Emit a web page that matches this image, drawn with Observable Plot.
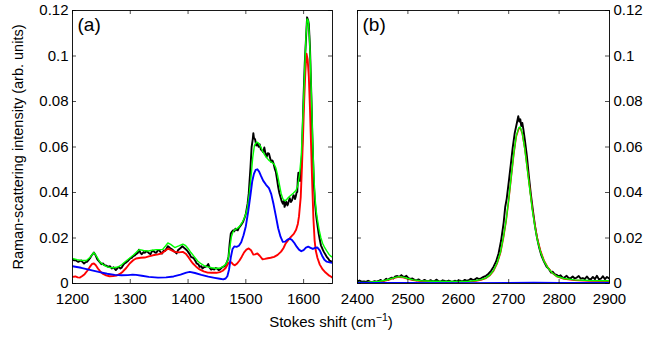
<!DOCTYPE html>
<html>
<head>
<meta charset="utf-8">
<script src="https://cdn.jsdelivr.net/npm/d3@7"></script>
<script src="https://cdn.jsdelivr.net/npm/@observablehq/plot@0.6"></script>
<style>
  html, body { margin: 0; padding: 0; background: #fff; }
  #wrap { position: relative; width: 645px; height: 339px; overflow: hidden; font-family: "Liberation Sans", Arial, sans-serif; }
  #wrap svg { position: absolute; top: 0; }
  #xlabel { position: absolute; left: 0; width: 662px; text-align: center; top: 313px; font-size: 15px; color: #000; }
  #xlabel sup { font-size: 10.5px; vertical-align: 6px; line-height: 0; }
</style>
</head>
<body>
<div id="wrap"><div id="xlabel">Stokes shift (cm<sup>−1</sup>)</div></div>
<script>
// ---------- tick labels ----------
const yTicks = [0, 0.02, 0.04, 0.06, 0.08, 0.1, 0.12];
const xTicksA = [1200, 1300, 1400, 1500, 1600];
const xTicksB = [2400, 2500, 2600, 2700, 2800, 2900];
const xDomainA = [1200, 1650];
const xDomainB = [2400, 2900];
const yDomain = [0, 0.12];
const yTitle = "Raman-scattering intensity (arb. units)";
const panelLabels = ["(a)", "(b)"];

// ---------- panel (a) : 1200-1650 cm-1 ----------
const aBlack = [
[1200,0.0105],[1203,0.0102],[1205,0.0103],[1208,0.0098],[1210,0.0095],[1213,0.0099],[1215,0.0101],[1218,0.0093],[1220,0.0088],[1223,0.0094],[1225,0.0095],[1228,0.0104],[1230,0.011],[1233,0.0123],[1237,0.0136],[1240,0.0124],[1243,0.0106],[1246,0.0097],[1250,0.0085],[1253,0.0088],[1255,0.0081],[1258,0.0079],[1262,0.0073],[1265,0.0076],[1268,0.0066],[1271,0.0071],[1275,0.0059],[1278,0.0068],[1280,0.0073],[1283,0.0066],[1285,0.0069],[1288,0.0082],[1290,0.0088],[1293,0.0093],[1296,0.0099],[1300,0.011],[1303,0.0114],[1305,0.012],[1308,0.0124],[1310,0.0129],[1313,0.0134],[1315,0.0149],[1318,0.0133],[1320,0.0129],[1323,0.0138],[1325,0.0135],[1328,0.0142],[1330,0.0139],[1333,0.0132],[1335,0.0129],[1338,0.0144],[1340,0.0143],[1343,0.0136],[1345,0.0135],[1348,0.0147],[1350,0.0146],[1353,0.0137],[1355,0.0132],[1358,0.0145],[1360,0.0143],[1363,0.0155],[1365,0.0164],[1368,0.0158],[1370,0.0153],[1373,0.0149],[1375,0.0143],[1378,0.0138],[1380,0.0132],[1383,0.0148],[1385,0.0151],[1388,0.0158],[1390,0.0164],[1393,0.0157],[1395,0.0153],[1398,0.0146],[1400,0.0139],[1403,0.0128],[1405,0.0117],[1408,0.0114],[1410,0.0110],[1413,0.0098],[1415,0.0088],[1418,0.0084],[1420,0.0073],[1423,0.0076],[1425,0.0066],[1428,0.0072],[1430,0.0073],[1433,0.0078],[1435,0.0086],[1437,0.0071],[1440,0.0061],[1443,0.0065],[1445,0.0061],[1448,0.0068],[1450,0.0066],[1453,0.0059],[1455,0.0061],[1458,0.0069],[1460,0.0073],[1463,0.0075],[1465,0.0081],[1468,0.0098],[1470,0.0117],[1472,0.0175],[1474,0.022],[1476,0.0228],[1478,0.0234],[1480,0.0229],[1482,0.0241],[1484,0.0236],[1486,0.0234],[1488,0.0245],[1490,0.0251],[1493,0.0262],[1495,0.027],[1498,0.029],[1500,0.0307],[1503,0.035],[1505,0.0395],[1508,0.051],[1510,0.06],[1512,0.0635],[1513,0.0661],[1514,0.064],[1516,0.0634],[1518,0.0606],[1520,0.0615],[1522,0.0601],[1524,0.0612],[1526,0.0589],[1528,0.0585],[1530,0.0577],[1532,0.0598],[1534,0.0571],[1536,0.0556],[1538,0.0573],[1540,0.0571],[1542,0.0552],[1544,0.0534],[1546,0.0541],[1548,0.0527],[1550,0.0505],[1552,0.049],[1554,0.0458],[1556,0.0424],[1558,0.0398],[1560,0.038],[1562,0.0362],[1564,0.0351],[1566,0.0363],[1567,0.0337],[1569,0.0352],[1570,0.0359],[1572,0.0343],[1573,0.0349],[1575,0.0368],[1576,0.0375],[1578,0.0358],[1580,0.0366],[1582,0.0385],[1583,0.0388],[1585,0.0371],[1586,0.0378],[1588,0.0401],[1589,0.0402],[1590,0.0462],[1591,0.0487],[1592,0.0455],[1594,0.0451],[1596,0.0515],[1597,0.0566],[1598,0.0655],[1600,0.083],[1602,0.097],[1603,0.102],[1605,0.112],[1606,0.117],[1608,0.1155],[1609,0.114],[1611,0.104],[1612,0.095],[1614,0.077],[1615,0.066],[1617,0.05],[1618,0.0424],[1620,0.0345],[1622,0.0293],[1624,0.0255],[1626,0.022],[1628,0.0192],[1630,0.0168],[1633,0.015],[1635,0.0139],[1638,0.0126],[1640,0.0117],[1643,0.0108],[1645,0.01],[1648,0.0097],[1650,0.0095]
];
const aGreen = [
[1200,0.011],[1208,0.0105],[1216,0.0101],[1224,0.0101],[1230,0.0114],[1237,0.0136],[1242,0.0118],[1247,0.0096],[1253,0.0083],[1259,0.0074],[1265,0.007],[1271,0.0069],[1279,0.0073],[1285,0.0082],[1290,0.0093],[1297,0.0108],[1305,0.0124],[1311,0.0139],[1316,0.0149],[1323,0.0145],[1331,0.0143],[1338,0.0146],[1345,0.0149],[1351,0.0149],[1356,0.015],[1361,0.0165],[1365,0.0178],[1370,0.0172],[1377,0.0158],[1384,0.0165],[1391,0.0173],[1396,0.0166],[1400,0.0154],[1405,0.0136],[1411,0.0117],[1417,0.0098],[1423,0.0086],[1429,0.0077],[1434,0.0073],[1441,0.0069],[1449,0.0066],[1455,0.0068],[1460,0.0073],[1465,0.0084],[1469,0.0104],[1472,0.0152],[1475,0.0205],[1478,0.0228],[1481,0.0237],[1485,0.0242],[1489,0.0251],[1493,0.0265],[1496,0.028],[1500,0.0305],[1503,0.0338],[1506,0.0395],[1509,0.0468],[1512,0.0555],[1515,0.0608],[1519,0.0622],[1522,0.0617],[1526,0.06],[1530,0.0576],[1535,0.0556],[1540,0.0541],[1545,0.0532],[1549,0.0525],[1552,0.0508],[1555,0.0475],[1558,0.0437],[1561,0.0397],[1564,0.0373],[1567,0.0364],[1570,0.0367],[1574,0.0379],[1578,0.0388],[1582,0.0397],[1587,0.041],[1590,0.0432],[1593,0.048],[1596,0.0565],[1598,0.0685],[1600,0.0805],[1602,0.095],[1604,0.108],[1606,0.1163],[1608,0.1155],[1610,0.109],[1612,0.096],[1614,0.078],[1616,0.06],[1618,0.046],[1620,0.037],[1622,0.0315],[1624,0.028],[1627,0.0235],[1630,0.02],[1633,0.0176],[1636,0.016],[1640,0.0143],[1644,0.0128],[1647,0.012],[1650,0.0116]
];
const aRed = [
[1200,0.0029],[1205,0.0031],[1209,0.0027],[1213,0.0026],[1217,0.0033],[1221,0.0041],[1226,0.0057],[1230,0.0073],[1234,0.0086],[1237,0.0088],[1240,0.0081],[1244,0.0066],[1248,0.0053],[1253,0.0042],[1258,0.0036],[1264,0.0032],[1270,0.0033],[1276,0.0035],[1282,0.0042],[1287,0.0052],[1293,0.0068],[1299,0.0088],[1305,0.0102],[1310,0.011],[1318,0.0113],[1325,0.0114],[1332,0.0119],[1339,0.0124],[1346,0.0127],[1354,0.0132],[1360,0.0143],[1365,0.0153],[1370,0.0148],[1377,0.0139],[1384,0.0137],[1391,0.0139],[1396,0.0131],[1400,0.0118],[1404,0.0103],[1408,0.0089],[1414,0.0074],[1420,0.0062],[1427,0.0053],[1434,0.0048],[1441,0.0047],[1449,0.0047],[1455,0.005],[1460,0.0056],[1465,0.0068],[1469,0.0086],[1472,0.0094],[1475,0.0093],[1478,0.0084],[1481,0.008],[1485,0.0088],[1489,0.0101],[1493,0.0118],[1497,0.0137],[1501,0.0149],[1505,0.0154],[1509,0.0146],[1513,0.0127],[1516,0.0128],[1520,0.0132],[1524,0.0122],[1529,0.0106],[1533,0.0108],[1538,0.0111],[1543,0.0113],[1549,0.0117],[1555,0.0126],[1561,0.014],[1565,0.0155],[1569,0.0176],[1574,0.0193],[1578,0.0205],[1583,0.0218],[1587,0.0236],[1590,0.0262],[1592,0.0295],[1595,0.038],[1597,0.0505],[1599,0.065],[1601,0.0805],[1603,0.093],[1605,0.101],[1607,0.0985],[1609,0.091],[1611,0.077],[1613,0.06],[1615,0.043],[1617,0.0285],[1619,0.019],[1621,0.0145],[1624,0.0112],[1628,0.0083],[1633,0.0062],[1638,0.0048],[1643,0.0037],[1647,0.0031],[1650,0.0026]
];
const aBlue = [
[1200,0.0076],[1215,0.0069],[1230,0.006],[1245,0.0051],[1260,0.0043],[1273,0.0038],[1285,0.0036],[1296,0.0037],[1304,0.0039],[1310,0.0038],[1320,0.0034],[1332,0.0029],[1348,0.0026],[1362,0.0027],[1375,0.0031],[1387,0.0039],[1397,0.0048],[1403,0.0051],[1412,0.0046],[1423,0.0038],[1435,0.003],[1446,0.0025],[1455,0.0021],[1461,0.0018],[1465,0.0022],[1468,0.0032],[1471,0.0062],[1474,0.0115],[1477,0.0152],[1480,0.0163],[1484,0.0161],[1488,0.0166],[1492,0.0181],[1496,0.0212],[1500,0.0252],[1504,0.0315],[1508,0.0389],[1511,0.0448],[1514,0.0482],[1517,0.0499],[1520,0.0502],[1523,0.0492],[1526,0.0474],[1530,0.0452],[1535,0.0434],[1540,0.0419],[1544,0.0393],[1548,0.0348],[1552,0.0296],[1556,0.0243],[1560,0.0206],[1564,0.0183],[1568,0.0184],[1572,0.0193],[1576,0.0197],[1580,0.0191],[1584,0.0178],[1588,0.0162],[1592,0.0149],[1596,0.0142],[1600,0.0147],[1604,0.0158],[1608,0.0162],[1612,0.0157],[1616,0.0152],[1620,0.0157],[1624,0.0158],[1628,0.0146],[1632,0.0122],[1636,0.0104],[1640,0.0096],[1645,0.0093],[1650,0.0091]
];

// ---------- panel (b) : 2400-2900 cm-1 ----------
const bBlack = [
[2400,0.0009],[2404,0.0013],[2408,0.0008],[2413,0.0009],[2417,0.0007],[2421,0.0012],[2425,0.0008],[2430,0.0007],[2434,0.001],[2438,0.0008],[2442,0.0011],[2446,0.0016],[2449,0.001],[2453,0.0013],[2457,0.0021],[2460,0.0015],[2464,0.0022],[2468,0.0026],[2471,0.0022],[2475,0.0031],[2479,0.0033],[2483,0.0029],[2487,0.0037],[2490,0.0031],[2494,0.0029],[2497,0.0034],[2501,0.0024],[2505,0.002],[2509,0.0022],[2513,0.0016],[2517,0.0014],[2521,0.0018],[2525,0.0012],[2529,0.0011],[2533,0.0016],[2537,0.0011],[2541,0.001],[2545,0.0015],[2549,0.001],[2553,0.0011],[2557,0.0017],[2561,0.001],[2565,0.0009],[2569,0.0014],[2573,0.0011],[2577,0.0009],[2581,0.0013],[2585,0.0009],[2589,0.0008],[2593,0.0012],[2597,0.0009],[2601,0.0014],[2605,0.0011],[2609,0.001],[2613,0.0016],[2617,0.0012],[2621,0.0015],[2625,0.0021],[2629,0.0015],[2633,0.0018],[2637,0.0024],[2641,0.0019],[2645,0.0023],[2650,0.0029],[2655,0.0034],[2660,0.0043],[2665,0.0056],[2670,0.0074],[2675,0.0097],[2680,0.0133],[2685,0.019],[2690,0.0268],[2693,0.0335],[2696,0.0372],[2700,0.0445],[2704,0.052],[2708,0.0598],[2712,0.0662],[2716,0.0703],[2719,0.0735],[2721,0.0712],[2723,0.0722],[2725,0.0692],[2727,0.0706],[2729,0.068],[2732,0.0632],[2736,0.0562],[2740,0.0472],[2744,0.0392],[2748,0.0322],[2752,0.0255],[2756,0.0203],[2760,0.0162],[2765,0.0122],[2770,0.0096],[2775,0.0074],[2780,0.0063],[2784,0.0048],[2787,0.0052],[2791,0.0041],[2795,0.0038],[2799,0.0031],[2803,0.0036],[2807,0.0026],[2811,0.0027],[2815,0.0034],[2819,0.0024],[2823,0.0023],[2827,0.0031],[2831,0.0022],[2835,0.0026],[2839,0.0033],[2843,0.0021],[2847,0.0024],[2851,0.0019],[2855,0.0031],[2859,0.002],[2863,0.0018],[2867,0.0029],[2871,0.0019],[2875,0.0034],[2879,0.0018],[2883,0.0021],[2887,0.0032],[2891,0.0019],[2895,0.0029],[2900,0.0021]
];
const bGreen = [
[2400,0.0005],[2420,0.0006],[2440,0.0009],[2455,0.0014],[2465,0.002],[2475,0.0027],[2482,0.003],[2490,0.0028],[2500,0.0022],[2510,0.0016],[2525,0.0012],[2550,0.001],[2575,0.0009],[2600,0.0009],[2620,0.001],[2635,0.0013],[2645,0.0017],[2655,0.0025],[2663,0.0038],[2670,0.0058],[2677,0.009],[2684,0.014],[2690,0.021],[2695,0.028],[2700,0.037],[2705,0.047],[2710,0.057],[2715,0.065],[2720,0.0685],[2723,0.0688],[2727,0.066],[2732,0.059],[2737,0.05],[2742,0.041],[2747,0.032],[2752,0.025],[2757,0.019],[2763,0.014],[2770,0.0098],[2778,0.0068],[2786,0.0047],[2795,0.0032],[2810,0.0022],[2830,0.0016],[2860,0.0013],[2900,0.0012]
];
const bRed = [
[2400,0.0003],[2420,0.0004],[2440,0.0007],[2455,0.0012],[2465,0.0018],[2475,0.0025],[2482,0.0028],[2490,0.0026],[2500,0.002],[2510,0.0014],[2525,0.001],[2550,0.0008],[2575,0.0007],[2600,0.0007],[2620,0.0008],[2635,0.0011],[2645,0.0015],[2655,0.0023],[2663,0.0036],[2670,0.0055],[2677,0.0087],[2684,0.0136],[2690,0.0205],[2695,0.0275],[2700,0.0365],[2705,0.0465],[2710,0.0565],[2715,0.0645],[2720,0.068],[2723,0.0684],[2727,0.0658],[2732,0.0592],[2737,0.0505],[2742,0.0415],[2747,0.0328],[2752,0.0257],[2757,0.0197],[2763,0.0146],[2770,0.0102],[2778,0.007],[2786,0.0047],[2795,0.0031],[2810,0.002],[2830,0.0014],[2860,0.0011],[2900,0.001]
];
const bBlue = [
[2400,0.0002],[2500,0.0002],[2600,0.0001],[2700,0.0002],[2750,0.0003],[2800,0.0002],[2900,0.0002]
];

const colors = {black: "#000000", green: "#00ff00", red: "#ff0000", blue: "#0000ff"};
const W = [340, 305];
const H = 339, MT = 10, MB = 56;

function panel({width, mL, mR, xDomain, xTicks, series, yAnchor, label, showTitle}) {
  const plotH = H - MT - MB, plotW = width - mL - mR, tk = 4;
  const lineMarks = series.map(([data, c, sw]) => Plot.line(data, {x: d => d[0], y: d => d[1], stroke: colors[c], strokeWidth: sw, clip: true}));
  return Plot.plot({
    width, height: H, marginLeft: mL, marginRight: mR, marginTop: MT, marginBottom: MB,
    style: {fontFamily: '"Liberation Sans", Arial, sans-serif', fontSize: "15px", color: "#000", background: "transparent", overflow: "visible"},
    x: {domain: xDomain, label: null},
    y: {domain: yDomain, label: null},
    marks: [
      ...lineMarks,
      Plot.frame({stroke: "#000", strokeWidth: 0.9}),
      Plot.tickX(xTicks, {x: d => d, insetTop: plotH - tk, stroke: "#000", strokeWidth: 0.7}),
      Plot.tickX(xTicks, {x: d => d, insetBottom: plotH - tk, stroke: "#000", strokeWidth: 0.7}),
      Plot.tickY(yTicks, {y: d => d, insetRight: plotW - tk, stroke: "#000", strokeWidth: 0.7}),
      Plot.tickY(yTicks, {y: d => d, insetLeft: plotW - tk, stroke: "#000", strokeWidth: 0.7}),
      Plot.axisX(xTicks, {anchor: "bottom", tickSize: 0, tickPadding: 10, fontSize: 15, tickFormat: d => String(d)}),
      Plot.axisY(yTicks, {anchor: yAnchor, tickSize: 0, tickPadding: 4, fontSize: 15, tickFormat: d => String(d)}),
      Plot.text([label], {frameAnchor: "top-left", text: d => d, dx: 5, dy: 7, fontSize: 19, textAnchor: "start", lineAnchor: "top"}),
      ...(showTitle ? [Plot.text([yTitle], {frameAnchor: "left", text: d => d, rotate: -90, dx: -54, fontSize: 14.5, textAnchor: "middle", lineAnchor: "middle"})] : [])
    ]
  });
}

const chartA = panel({width: W[0], mL: 72, mR: 8, xDomain: xDomainA, xTicks: xTicksA, yAnchor: "left", label: panelLabels[0], showTitle: true,
  series: [[aBlack, "black", 1.9], [aRed, "red", 1.9], [aGreen, "green", 1.4], [aBlue, "blue", 1.9]]});
const chartB = panel({width: W[1], mL: 17, mR: 36, xDomain: xDomainB, xTicks: xTicksB, yAnchor: "right", label: panelLabels[1], showTitle: false,
  series: [[bBlack, "black", 1.9], [bRed, "red", 1.5], [bGreen, "green", 1.4], [bBlue, "blue", 2.2]]});
chartA.style.left = "0px";
chartB.style.left = W[0] + "px";
const wrap = document.getElementById("wrap");
wrap.appendChild(chartA);
wrap.appendChild(chartB);
</script>
</body>
</html>
